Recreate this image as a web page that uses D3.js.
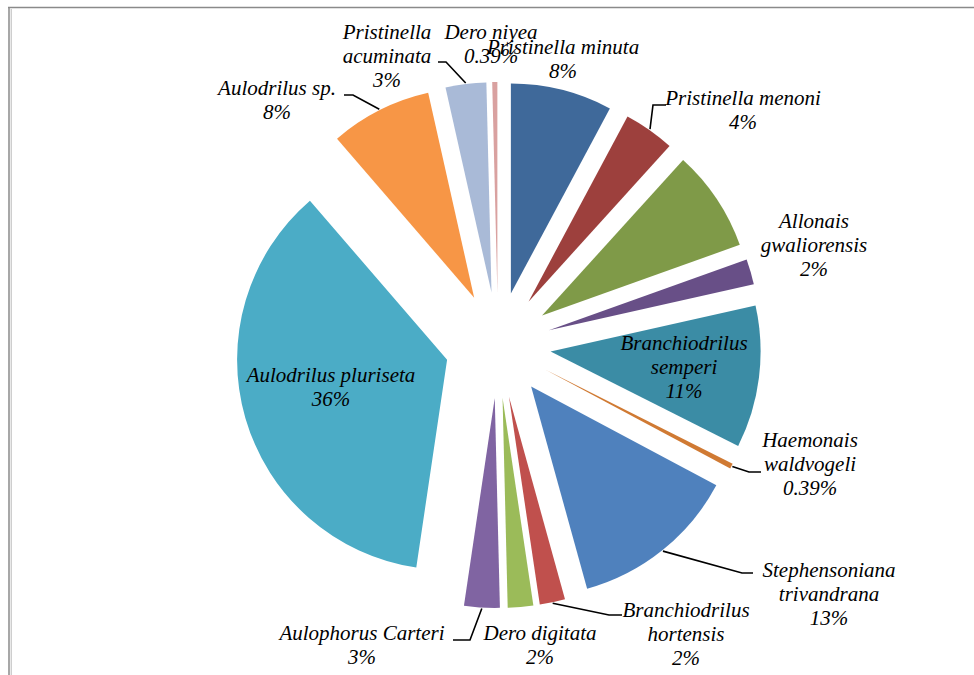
<!DOCTYPE html>
<html><head><meta charset="utf-8">
<script src="https://cdn.jsdelivr.net/npm/d3@7/dist/d3.min.js"></script>
<style>body{margin:0;background:#fff}svg{display:block}</style>
</head><body><svg id="chart" width="974" height="675"></svg>
<script>
// ---- data ----
const categories = ["Pristinella minuta","Pristinella menoni","(unlabelled)","Allonais gwaliorensis","Branchiodrilus semperi","Haemonais waldvogeli","Stephensoniana trivandrana","Branchiodrilus hortensis","Dero digitata","Aulophorus Carteri","Aulodrilus pluriseta","Aulodrilus sp.","Pristinella acuminata","Dero niyea"];
const values = [20,10,20,5,28,1,33,5,5,7,93,20,8,1];
const labelLines = [["Pristinella minuta"],["Pristinella menoni"],null,["Allonais","gwaliorensis"],["Branchiodrilus","semperi"],["Haemonais","waldvogeli"],["Stephensoniana","trivandrana"],["Branchiodrilus","hortensis"],["Dero digitata"],["Aulophorus Carteri"],["Aulodrilus pluriseta"],["Aulodrilus sp."],["Pristinella","acuminata"],["Dero niyea"]];
const colors = ["#3F699A","#9D403D","#7F9A48","#684F87","#3B8CA5","#D07A33","#4F81BD","#C0504D","#9BBB59","#8064A2","#4BACC6","#F79646","#A9BAD7","#D9A1A0"];

// ---- layout (label placement, leader elbows) ----
const labelPos = [[563,54],[743,105],null,[814,228],[684,350],[810,447],[829,577],[686,617],[540,640],[362,640],[331,382],[277,95],[387,39],[491,39]];
const leaders = [null,[[653,105],[666,105]],null,null,null,[[749,472],[761,472]],[[742,573],[753,573]],[[609,615],[622,615]],null,[[470,640],[453,640]],null,[[353,95],[344,95]],[[446,62],[438,62]],null];

const W = 974, H = 675, cx = 498, cy = 345, R = 210, explode = 53, lineH = 24;
const svg = d3.select("#chart");
svg.append("rect").attr("width",W).attr("height",H).attr("fill","#fff");

// frame
svg.append("line").attr("x1",8).attr("x2",W).attr("y1",7.5).attr("y2",7.5).attr("stroke","#8a8a8a").attr("stroke-width",1.5);
svg.append("line").attr("x1",9).attr("x2",9).attr("y1",7).attr("y2",H).attr("stroke","#8a8a8a").attr("stroke-width",1.5);
svg.append("line").attr("x1",11.2).attr("x2",11.2).attr("y1",9).attr("y2",H).attr("stroke","#b8b8b8").attr("stroke-width",1);

const total = d3.sum(values);
const pie = d3.pie().sort(null).value(d => d).startAngle(0).endAngle(2*Math.PI);
const arcs = pie(values);
const arc = d3.arc().innerRadius(0).outerRadius(R);
const color = d3.scaleOrdinal().domain(categories).range(colors);

const g = svg.append("g").attr("transform",`translate(${cx},${cy})`);
arcs.forEach((a,i) => {
  const mid = (a.startAngle + a.endAngle)/2;
  a.dx = explode*Math.sin(mid); a.dy = -explode*Math.cos(mid); a.mid = mid;
});
g.selectAll("path.slice").data(arcs).join("path")
  .attr("class","slice")
  .attr("transform", d => `translate(${d.dx},${d.dy})`)
  .attr("d", arc)
  .attr("fill", (d,i) => color(categories[i]));

// leader lines
arcs.forEach((a,i) => {
  if (!leaders[i]) return;
  const sx = cx + a.dx + (R+1)*Math.sin(a.mid), sy = cy + a.dy - (R+1)*Math.cos(a.mid);
  const pts = [[sx,sy], ...leaders[i]];
  svg.append("path").attr("d", d3.line()(pts)).attr("fill","none").attr("stroke","#000").attr("stroke-width",1.6);
});

// labels
const fmt = v => { const p = v/total; return p < 0.01 ? d3.format(".2%")(p) : d3.format(".0%")(p); };
arcs.forEach((a,i) => {
  if (!labelLines[i]) return;
  const lines = [...labelLines[i], fmt(values[i])];
  const t = svg.append("text").attr("text-anchor","middle")
    .style("font-family","'Liberation Serif', 'Times New Roman', serif").style("font-style","italic")
    .attr("font-size",21).attr("fill","#000");
  lines.forEach((s,k) => t.append("tspan").attr("x",labelPos[i][0]).attr("y",labelPos[i][1]+k*lineH).text(s));
});
</script></body></html>
